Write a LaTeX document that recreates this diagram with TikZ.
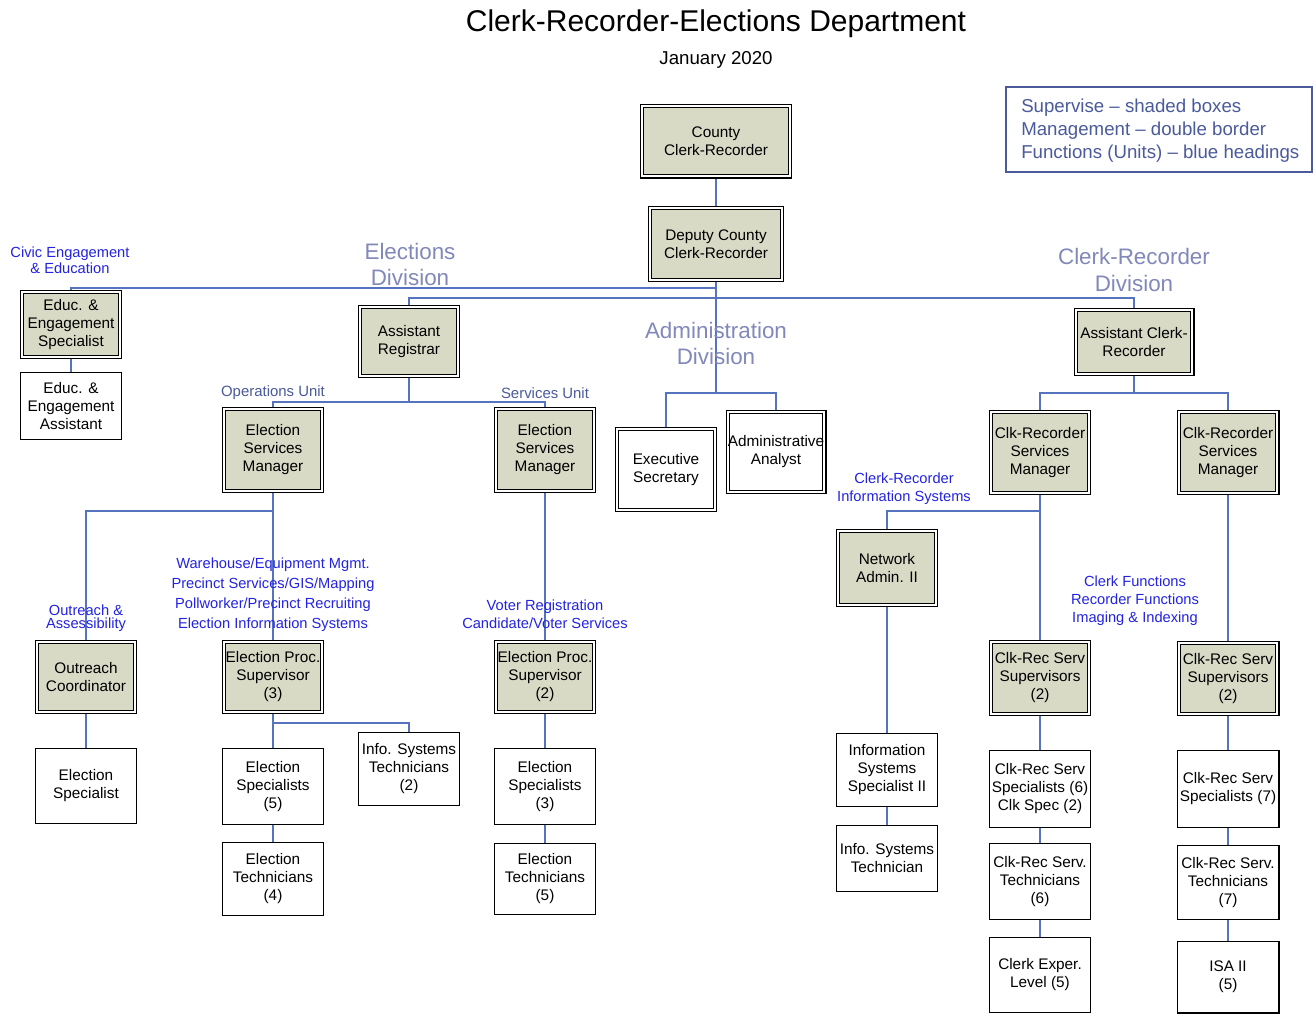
\documentclass[tikz,border=0pt]{standalone}
\usepackage{fontspec}
\usetikzlibrary{backgrounds}
\setmainfont{Liberation Sans}
\definecolor{boxfill}{RGB}{216,218,198}
\definecolor{linecol}{RGB}{85,115,190}
\definecolor{funcblue}{RGB}{35,35,225}
\definecolor{divcol}{RGB}{130,136,185}
\definecolor{slate}{RGB}{75,90,155}
\tikzset{
  base/.style={align=center, inner sep=0pt, text=black, font=\fontsize{11.5}{13.5}\selectfont},
  shaded/.style={base, fill=boxfill, draw=black, double=white, double distance=1.6pt, line width=0.8pt},
  dbl/.style={base, fill=white, draw=black, double=white, double distance=1.6pt, line width=0.8pt},
  plain/.style={base, fill=white, draw=black, line width=0.9pt},
  dsz/.style 2 args={minimum width={#1*0.75pt-3.2pt}, minimum height={#2*0.75pt-3.2pt}},
  psz/.style 2 args={minimum width={#1*0.75pt-0.9pt}, minimum height={#2*0.75pt-0.9pt}},
  conn/.style={draw=linecol, line width=0.8pt},
  func/.style={align=center, inner sep=0pt, text=funcblue},
  divlab/.style={align=center, inner sep=0pt, text=divcol, font=\fontsize{16.8}{20}\selectfont},
  unitlab/.style={inner sep=0pt, text=slate, font=\fontsize{11.2}{13}\selectfont},
}
\begin{document}
\begin{tikzpicture}[x=0.75pt,y=-0.75pt]
\useasboundingbox (0,0) rectangle (1313,1015);
\begin{scope}[on background layer]
\fill[white] (0,0) rectangle (1313,1015);
\end{scope}

% title
\node[inner sep=0pt, font=\fontsize{22.5}{26}\selectfont] (title) at (716,24) {Clerk-Recorder-Elections Department};
\node[inner sep=0pt, font=\fontsize{14}{16}\selectfont] (date) at (716,60) {January 2020};

% legend
\node[draw=slate, line width=0.8pt, minimum width=229.5pt, minimum height=63.75pt, inner sep=0pt] (legendbox) at (1159,129.5) {};
\node[anchor=west, inner sep=0pt, align=left, text=slate, font=\fontsize{14}{17.25}\selectfont] (legendtext) at (1021,130.5)
  {Supervise -- shaded boxes\\Management -- double border\\Functions (Units) -- blue headings};

% division labels
\node[divlab] (elecdiv) at (410,264.5) {Elections\\Division};
\node[divlab] (admdiv) at (716,343.5) {Administration\\Division};
\node[divlab] (crdiv) at (1134,270) {Clerk-Recorder\\Division};

% junction points
\coordinate (jedu) at (716,288);
\coordinate (jdiv) at (716,298);
\coordinate (jadm) at (716,393);
\coordinate (jreg) at (409,402);
\coordinate (jops) at (273,511);
\coordinate (jeps) at (273,723);
\coordinate (jacr) at (1134,393);
\coordinate (jcris) at (1040,511);

% nodes
\node[shaded, dsz={152}{75}] (county) at (716,141) {County\\Clerk-Recorder};
\node[shaded, dsz={136}{76}] (deputy) at (716,244) {Deputy County\\Clerk-Recorder};
\node[shaded, dsz={102}{69}] (educspec) at (71,324.5) {Educ. \&\\Engagement\\Specialist};
\node[plain, psz={102}{68}] (educasst) at (71,406) {Educ. \&\\Engagement\\Assistant};
\node[shaded, dsz={102}{73}] (asstreg) at (409,341.5) {Assistant\\Registrar};
\node[shaded, dsz={102}{86}] (esm1) at (273,450) {Election\\Services\\Manager};
\node[shaded, dsz={102}{86}] (esm2) at (545,450) {Election\\Services\\Manager};
\node[dbl, dsz={102}{85}] (execsec) at (666,469.5) {Executive\\Secretary};
\node[dbl, dsz={101}{84}] (analyst) at (776,452) {Administrative\\Analyst};
\node[shaded, dsz={121}{68}] (acr) at (1134,342) {Assistant Clerk-\\Recorder};
\node[shaded, dsz={102}{85}] (crsm1) at (1040,452.5) {Clk-Recorder\\Services\\Manager};
\node[shaded, dsz={103}{85}] (crsm2) at (1228,452.5) {Clk-Recorder\\Services\\Manager};
\node[shaded, dsz={102}{74}] (outreach) at (86,677) {Outreach\\Coordinator};
\node[shaded, dsz={102}{74}] (eps3) at (273,677) {Election Proc.\\Supervisor\\(3)};
\node[shaded, dsz={102}{74}] (eps2) at (545,677) {Election Proc.\\Supervisor\\(2)};
\node[shaded, dsz={102}{78}] (netadmin) at (887,568) {Network\\Admin. II};
\node[shaded, dsz={102}{76}] (crss1) at (1040,678) {Clk-Rec Serv\\Supervisors\\(2)};
\node[shaded, dsz={103}{75}] (crss2) at (1228,678.5) {Clk-Rec Serv\\Supervisors\\(2)};
\node[plain, psz={102}{76}] (elecspec) at (86,786) {Election\\Specialist};
\node[plain, psz={102}{77}] (es5) at (273,786.5) {Election\\Specialists\\(5)};
\node[plain, psz={102}{74}] (ist2) at (409,769) {Info. Systems\\Technicians\\(2)};
\node[plain, psz={102}{74}] (et4) at (273,879) {Election\\Technicians\\(4)};
\node[plain, psz={102}{77}] (es3) at (545,786.5) {Election\\Specialists\\(3)};
\node[plain, psz={102}{72}] (et5) at (545,879) {Election\\Technicians\\(5)};
\node[plain, psz={102}{74}] (iss2) at (887,770) {Information\\Systems\\Specialist II};
\node[plain, psz={102}{67}] (ist) at (887,858.5) {Info. Systems\\Technician};
\node[plain, psz={102}{78}] (crsp6) at (1040,789) {Clk-Rec Serv\\Specialists (6)\\Clk Spec (2)};
\node[plain, psz={103}{78}] (crsp7) at (1228,789) {Clk-Rec Serv\\Specialists (7)};
\node[plain, psz={102}{77}] (crst6) at (1040,881.5) {Clk-Rec Serv.\\Technicians\\(6)};
\node[plain, psz={103}{75}] (crst7) at (1228,882.5) {Clk-Rec Serv.\\Technicians\\(7)};
\node[plain, psz={102}{76}] (clerkexp) at (1040,975) {Clerk Exper.\\Level (5)};
\node[plain, psz={103}{73}] (isa) at (1228,977) {ISA II\\(5)};

% connectors (behind the boxes)
\begin{scope}[on background layer]
\draw[conn] (county.south) -- (deputy.north);
\draw[conn] (deputy.south) -- (jadm);
\draw[conn] (educspec.north) |- (jedu);
\draw[conn] (asstreg.north) |- (jdiv) -| (acr.north);
\draw[conn] (execsec.north) |- (jadm) -| (analyst.north);
\draw[conn] (educspec.south) -- (educasst.north);
\draw[conn] (asstreg.south) -- (jreg);
\draw[conn] (esm1.north) |- (jreg) -| (esm2.north);
\draw[conn] (esm1.south) -- (eps3.north);
\draw[conn] (outreach.north) |- (jops);
\draw[conn] (esm2.south) -- (eps2.north);
\draw[conn] (outreach.south) -- (elecspec.north);
\draw[conn] (eps3.south) -- (es5.north);
\draw[conn] (jeps) -| (ist2.north);
\draw[conn] (es5.south) -- (et4.north);
\draw[conn] (eps2.south) -- (es3.north);
\draw[conn] (es3.south) -- (et5.north);
\draw[conn] (acr.south) -- (jacr);
\draw[conn] (crsm1.north) |- (jacr) -| (crsm2.north);
\draw[conn] (crsm1.south) -- (crss1.north);
\draw[conn] (netadmin.north) |- (jcris);
\draw[conn] (crsm2.south) -- (crss2.north);
\draw[conn] (netadmin.south) -- (iss2.north);
\draw[conn] (iss2.south) -- (ist.north);
\draw[conn] (crss1.south) -- (crsp6.north);
\draw[conn] (crsp6.south) -- (crst6.north);
\draw[conn] (crst6.south) -- (clerkexp.north);
\draw[conn] (crss2.south) -- (crsp7.north);
\draw[conn] (crsp7.south) -- (crst7.north);
\draw[conn] (crst7.south) -- (isa.north);
\end{scope}

% function / unit labels
\node[func, font=\fontsize{11}{12}\selectfont] (civic) at (70,260) {Civic Engagement\\\& Education};
\node[unitlab] (opsunit) at (273,393) {Operations Unit};
\node[unitlab] (servunit) at (545,393) {Services Unit};
\node[func, font=\fontsize{11}{9.75}\selectfont] (outlab) at (86,618.5) {Outreach \&\\Assessibility};
\node[func, font=\fontsize{11}{15}\selectfont] (warelab) at (273,594.5) {Warehouse/Equipment Mgmt.\\Precinct Services/GIS/Mapping\\Pollworker/Precinct Recruiting\\Election Information Systems};
\node[func, font=\fontsize{11}{13.5}\selectfont] (voterlab) at (545,614) {Voter Registration\\Candidate/Voter Services};
\node[func, font=\fontsize{11}{13.5}\selectfont] (crislab) at (904,489) {Clerk-Recorder\\Information Systems};
\node[func, font=\fontsize{11}{13.5}\selectfont] (clerkfn) at (1135,601) {Clerk Functions\\Recorder Functions\\Imaging \& Indexing};
\end{tikzpicture}
\end{document}
